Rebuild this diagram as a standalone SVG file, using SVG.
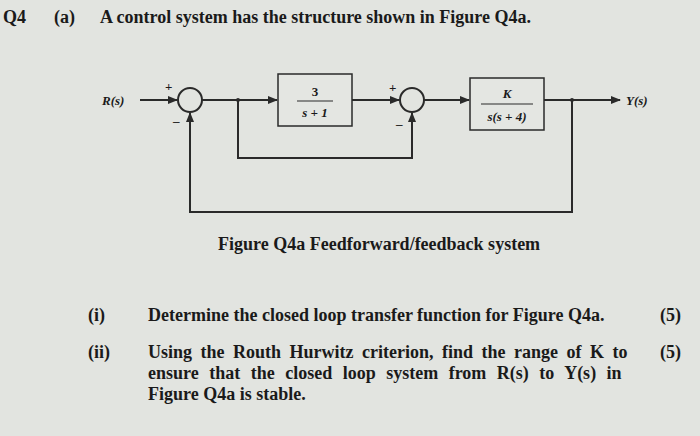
<svg xmlns="http://www.w3.org/2000/svg" width="700" height="436" viewBox="0 0 700 436">
<defs>
<marker id="ah" markerWidth="10" markerHeight="8" refX="9" refY="4" orient="auto" markerUnits="userSpaceOnUse"><path d="M0,0 L10,4 L0,8 Z" fill="#2a2a2a"/></marker>
<style>
.t{font-family:"Liberation Serif",serif;font-weight:bold;fill:#1a1a1a;font-size:18px}
.s{font-family:"Liberation Serif",serif;font-style:italic;font-weight:bold;fill:#1a1a1a;font-size:13px}
.n{font-family:"Liberation Serif",serif;font-weight:bold;fill:#1a1a1a;font-size:13px}
.ln{stroke:#2a2a2a;stroke-width:2;fill:none}
.bx{stroke:#2a2a2a;stroke-width:1.5;fill:#e4e6e2}
</style>
</defs>
<rect width="700" height="436" fill="#e2e4e0"/>
<text class="t" x="3" y="23" font-size="17">Q4</text>
<text class="t" x="54" y="23">(a)</text>
<text class="t" x="100" y="23">A control system has the structure shown in Figure Q4a.</text>
<g id="connectors">
<path class="ln" d="M140,100 H177" marker-end="url(#ah)"/>
<path class="ln" d="M202,100 H277" marker-end="url(#ah)"/>
<path class="ln" d="M352,100 H399" marker-end="url(#ah)"/>
<path class="ln" d="M424,100 H469" marker-end="url(#ah)"/>
<path class="ln" d="M544,100 H620" marker-end="url(#ah)"/>
<path class="ln" d="M238,100 V158 H412 V113" marker-end="url(#ah)"/>
<path class="ln" d="M572,100 V212 H190 V113" marker-end="url(#ah)"/>
<circle cx="238" cy="100" r="2" fill="#2a2a2a"/>
<circle cx="572" cy="100" r="2" fill="#2a2a2a"/>
</g>
<g id="R"><text class="s" x="102" y="105">R(s)</text></g>
<g id="sum1"><circle class="ln" cx="190" cy="100" r="12"/><text class="n" x="165" y="91">+</text><text class="n" x="173" y="125">–</text></g>
<g id="G1"><rect class="bx" x="278" y="74" width="74" height="52"/><text class="n" x="315" y="96" text-anchor="middle">3</text><line x1="297" y1="101" x2="333" y2="101" stroke="#2a2a2a"/><text class="s" x="315" y="117" text-anchor="middle">s + 1</text></g>
<g id="sum2"><circle class="ln" cx="412" cy="100" r="12"/><text class="n" x="389" y="92">+</text><text class="n" x="396" y="128">–</text></g>
<g id="G2"><rect class="bx" x="470" y="78" width="74" height="52"/><text class="s" x="507" y="98" text-anchor="middle">K</text><line x1="481" y1="104" x2="533" y2="104" stroke="#2a2a2a"/><text class="s" x="507" y="121" text-anchor="middle">s(s + 4)</text></g>
<g id="Y"><text class="s" x="626" y="105">Y(s)</text></g>
<text class="t" x="218" y="250">Figure Q4a Feedforward/feedback system</text>
<text class="t" x="88" y="321">(i)</text>
<text class="t" x="148" y="321">Determine the closed loop transfer function for Figure Q4a.</text>
<text class="t" x="660" y="321">(5)</text>
<text class="t" x="88" y="358">(ii)</text>
<text class="t" x="148" y="358" word-spacing="4">Using the Routh Hurwitz criterion, find the range of K to</text>
<text class="t" x="660" y="358">(5)</text>
<text class="t" x="148" y="379" word-spacing="6">ensure that the closed loop system from R(s) to Y(s) in</text>
<text class="t" x="148" y="400">Figure Q4a is stable.</text>
</svg>
